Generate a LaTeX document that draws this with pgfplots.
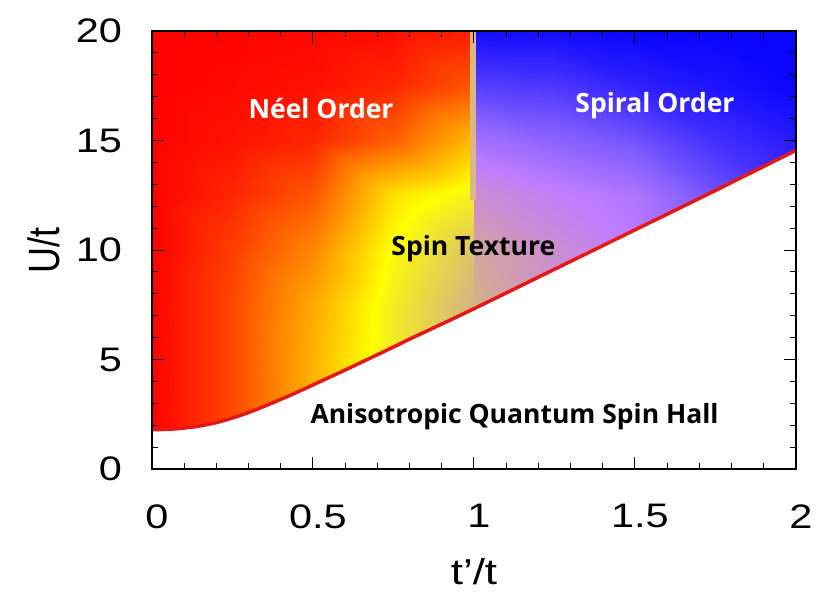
\documentclass[border=0pt]{standalone}
\usepackage{fontspec}
\setmainfont{Liberation Sans}
\newfontfamily\annfont{Open Sans}
\usepackage{pgfplots}
\usepackage{pgfplotstable}
\pgfplotsset{compat=1.18}

\definecolor{stripe}{RGB}{218,184,132}
\definecolor{curvered}{RGB}{228,24,24}

% phase parameter s on a grid: 0 red, 1 yellow, 1.4 tan, 2 lavender, 3 blue
\pgfplotstableread{
x    y    s
0    0    0
0.25 0    0.28
0.5  0    0.70
0.75 0    1.12
1    0    1.42
0    2.5  0
0.25 2.5  0.28
0.5  2.5  0.70
0.75 2.5  1.12
1    2.5  1.42
0    5    0
0.25 5    0.28
0.5  5    0.70
0.75 5    1.12
1    5    1.42
0    7.5  0
0.25 7.5  0.28
0.5  7.5  0.66
0.75 7.5  1.10
1    7.5  1.40
0    10   0
0.25 10   0.24
0.5  10   0.53
0.75 10   1.02
1    10   1.32
0    12.5 0
0.25 12.5 0.15
0.5  12.5 0.34
0.75 12.5 0.88
1    12.5 1.08
0    15   0
0.25 15   0.07
0.5  15   0.15
0.75 15   0.38
1    15   0.74
0    17.5 0
0.25 17.5 0.03
0.5  17.5 0.06
0.75 17.5 0.15
1    17.5 0.34
0    20   0
0.25 20   0.01
0.5  20   0.02
0.75 20   0.05
1    20   0.12
}\leftphase

\pgfplotstableread{
x    y    s
1    0    1.42
1.25 0    1.70
1.5  0    2.00
1.75 0    2.30
2    0    2.60
1    2.5  1.42
1.25 2.5  1.70
1.5  2.5  2.00
1.75 2.5  2.30
2    2.5  2.60
1    5    1.42
1.25 5    1.70
1.5  5    2.00
1.75 5    2.30
2    5    2.60
1    7.5  1.42
1.25 7.5  1.70
1.5  7.5  2.00
1.75 7.5  2.30
2    7.5  2.60
1    10   1.50
1.25 10   1.75
1.5  10   2.00
1.75 10   2.30
2    10   2.60
1    12.5 1.75
1.25 12.5 1.95
1.5  12.5 2.10
1.75 12.5 2.45
2    12.5 2.70
1    15   2.15
1.25 15   2.30
1.5  15   2.45
1.75 15   2.70
2    15   2.85
1    17.5 2.60
1.25 17.5 2.65
1.5  17.5 2.80
1.75 17.5 2.90
2    17.5 3.00
1    20   2.95
1.25 20   2.95
1.5  20   3.00
1.75 20   3.00
2    20   3.00
}\rightphase

\pgfplotstableread{
x    y
0    1.80
0.05 1.81
0.1  1.87
0.15 1.97
0.2  2.12
0.25 2.33
0.3  2.58
0.35 2.87
0.4  3.18
0.45 3.50
0.5  3.84
0.55 4.18
0.6  4.52
0.65 4.87
0.7  5.22
0.75 5.57
0.8  5.93
0.9  6.62
1.0  7.32
1.25 9.12
1.5  10.92
1.75 12.72
2.0  14.55
}\boundary

\begin{document}
\begin{tikzpicture}
\begin{axis}[
    at={(0,0)}, anchor=south west,
    scale only axis,
    width=644pt, height=438pt,
    xmin=0, xmax=2, ymin=0, ymax=20,
    xtick={0,0.5,1,1.5,2},
    ytick={0,5,10,15,20},
    minor x tick num=4,
    minor y tick num=4,
    major tick length=12pt,
    minor tick length=6pt,
    tick style={black, line width=1pt},
    axis line style={black, line width=1.2pt},
    axis on top,
    colormap={phase}{rgb255(0)=(255,0,0) rgb255(10)=(255,255,0) rgb255(14)=(212,178,135) rgb255(17)=(205,145,200) rgb255(20)=(190,125,255) rgb255(24)=(125,90,255) rgb255(30)=(10,5,255)},
    point meta min=0, point meta max=3,
    /pgf/number format/assume math mode=true,
    ticklabel style={font=\fontsize{34}{34}\selectfont, xscale=1.22},
    xticklabel style={yshift=-32pt, xshift=4pt},
    yticklabel style={xshift=-21pt},
    every axis x label/.style={at={(axis description cs:0.5,0)}, anchor=center, yshift=-103pt, xscale=1.22},
    every axis y label/.style={at={(axis description cs:-0.168,0.5)}, anchor=center, rotate=90, yscale=1.22},
    label style={font=\fontsize{36}{36}\selectfont},
    xlabel={t’/t},
    ylabel={U/t},
]
\addplot[surf, shader=interp, mesh/cols=5, point meta=explicit] table[x=x, y=y, meta=s] {\leftphase};
\addplot[surf, shader=interp, mesh/cols=5, point meta=explicit] table[x=x, y=y, meta=s] {\rightphase};
\addplot[stripe, line width=6pt, forget plot] coordinates {(0.997,12.3) (0.997,20)};
\addplot[draw=none, fill=white] table[x=x, y=y] {\boundary} \closedcycle;
\addplot[curvered, line width=3.5pt, smooth] table[x=x, y=y] {\boundary};

\node[font=\annfont\bfseries\fontsize{26.5}{28}\selectfont, text=white] at (axis cs:0.525,16.48) {Néel Order};
\node[font=\annfont\bfseries\fontsize{26.5}{28}\selectfont, text=white, anchor=base] at (axis cs:1.562,16.3) {Spiral Order};
\node[font=\annfont\bfseries\fontsize{26.5}{28}\selectfont, text=black, anchor=base] at (axis cs:0.998,9.77) {Spin Texture};
\node[font=\annfont\bfseries\fontsize{26.5}{28}\selectfont, text=black, anchor=base] at (axis cs:1.126,2.1) {Anisotropic Quantum Spin Hall};
\end{axis}
\pgfresetboundingbox
\path[use as bounding box] (-152pt,-137pt) rectangle (679pt,469pt);
\end{tikzpicture}
\end{document}
